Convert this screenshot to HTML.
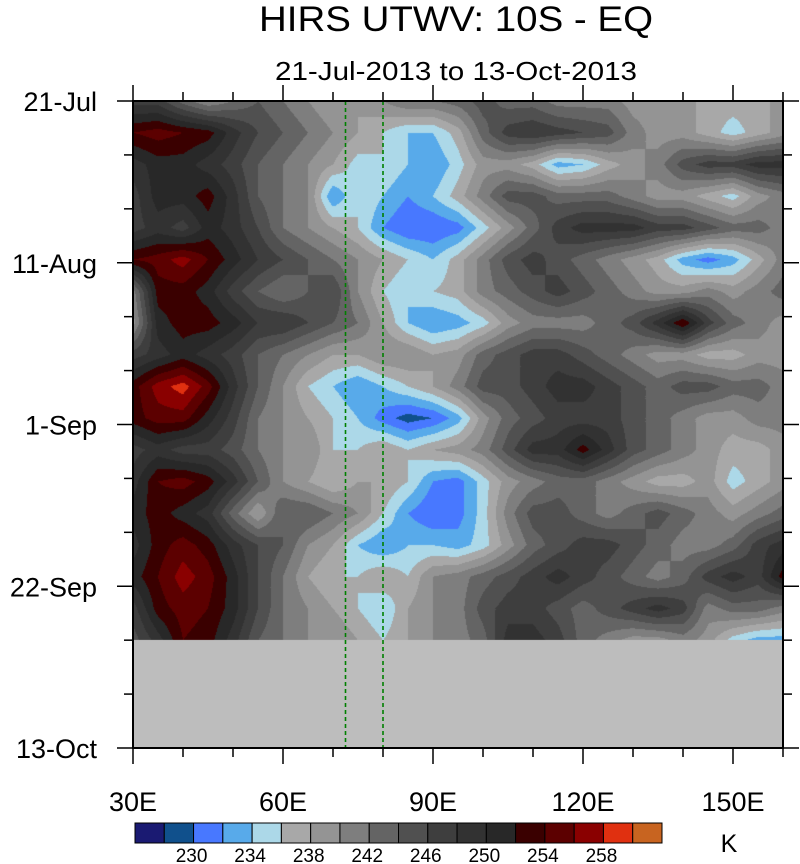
<!DOCTYPE html>
<html><head><meta charset="utf-8"><style>
html,body{margin:0;padding:0;background:#fff;width:800px;height:864px;overflow:hidden}
#wrap{position:relative;width:800px;height:864px}
canvas{position:absolute;left:133px;top:101px}
svg{position:absolute;left:0;top:0}
text{font-family:"Liberation Sans",sans-serif;fill:#000}
</style></head><body>
<div id="wrap">
<canvas id="field" width="650" height="540"></canvas>
<svg id="svg" width="800" height="864"></svg>
</div>
<script>
// ---- data ----
const lons = [30,35,40,45,50,55,60,65,70,75,80,85,90,95,100,105,110,115,120,125,130,135,140,145,150,155,160];
const days = [0,4.12,8.24,12.35,16.47,20.59,24.71,28.82,32.94,37.06,41.18,45.29,49.41,53.53,57.65,61.76,65.88,70];
const utwv = [
[245,245,241,238,240,242,240,238,236,236,238,240,240,241,243,241,241,239,239,239,237,237,237,235,235,235,237],
[252,253,252,251,247,244,242,240,238,236,234,232,232,235,241,245,246,245,244,243,239,237,237,235,233,235,237],
[247,249,249,247,245,242,240,238,236,233,234,232,230,233,237,237,235,231,232,235,237,239,243,245,245,247,247],
[245,249,249,251,247,242,240,238,230,234,232,230,232,235,239,243,243,241,241,241,239,237,237,235,233,237,239],
[245,247,245,249,247,244,240,238,236,234,230,228,228,229,233,237,241,245,247,247,247,245,245,243,241,241,239],
[252,253,255,252,249,246,244,242,240,238,236,234,232,235,239,243,245,243,241,239,237,235,231,229,231,235,239],
[239,251,251,249,245,242,240,242,244,238,234,232,234,235,239,241,243,245,243,241,239,237,237,239,237,239,241],
[237,249,251,251,249,246,246,244,242,240,236,232,230,231,233,237,239,239,239,241,243,247,252,245,241,239,237],
[245,247,249,247,245,242,240,238,236,236,238,238,236,237,241,243,245,245,243,241,239,237,237,235,235,237,237],
[251,255,257,253,247,242,238,234,232,230,232,234,236,239,243,243,245,247,247,245,243,241,243,243,241,241,239],
[251,253,253,249,245,240,238,236,234,232,229,227,228,231,237,241,243,245,245,245,243,241,239,237,237,239,239],
[245,247,245,245,243,240,238,238,234,234,236,234,236,237,239,243,247,247,251,247,243,241,239,237,235,235,237],
[247,252,253,251,247,242,238,236,234,236,236,234,230,229,233,237,239,241,241,239,237,235,235,237,233,235,237],
[249,251,249,247,241,236,242,242,240,238,234,230,228,229,233,239,243,243,241,239,241,243,241,239,237,239,241],
[247,251,253,251,247,244,242,238,236,232,230,232,232,231,233,237,241,243,245,245,243,241,239,239,241,245,247],
[249,252,255,253,249,244,240,236,234,234,236,234,238,239,241,243,245,247,245,243,241,239,241,245,247,245,251],
[245,251,253,252,249,244,240,238,236,234,232,236,238,239,243,245,245,243,241,243,245,247,245,239,241,241,239],
[243,247,252,251,247,242,240,238,238,236,234,236,238,239,241,247,247,245,241,239,237,237,239,237,233,231,231]
];
const levels = [226,228,230,232,234,236,238,240,242,244,246,248,250,252,254,256,258];
const levelLabels = ["230","234","238","242","246","250","254","258"];
const xTickLabels = ["30E","60E","90E","120E","150E"];
const xTickLons = [30,60,90,120,150];
const yTickLabels = ["21-Jul","11-Aug","1-Sep","22-Sep","13-Oct"];
const yTickDays = [0,21,42,63,84];
const markerLons = [72.5,80];
const colors = ["#1a1a72","#10508c","#4878ff","#58aaea","#acd8e8","#a8a8a8","#949494","#7e7e7e","#646464","#505050","#3e3e3e","#323232","#282828","#3a0000","#5c0000","#8a0000","#e03010","#c86420"];

// ---- axes ----
const X0=133,X1=783,Y0=101,Y1=748;
const xS = lon => X0 + (lon-30)*(X1-X0)/130;
const yS = d => Y0 + d*(Y1-Y0)/84;
function colorIdx(v){let k=0;while(k<levels.length&&v>=levels[k])k++;return k;}

// ---- field ----
const cv=document.getElementById('field'),ctx=cv.getContext('2d');
const W=cv.width,H=cv.height,img=ctx.createImageData(W,H);
const rgb=colors.map(c=>[parseInt(c.substr(1,2),16),parseInt(c.substr(3,2),16),parseInt(c.substr(5,2),16)]);
const dEnd=days[days.length-1];
for(let py=0;py<H;py++){
  const d=(py+0.5)*84/(Y1-Y0);
  let r=0;while(r<days.length-2&&d>days[r+1])r++;
  let ty=Math.min(1,(d-days[r])/(days[r+1]-days[r]));
  for(let px=0;px<W;px++){
    const o=(py*W+px)*4;
    if(d>dEnd){img.data[o]=189;img.data[o+1]=189;img.data[o+2]=189;img.data[o+3]=255;continue;}
    const lon=30+(px+0.5)*130/(X1-X0);
    let c=0;while(c<lons.length-2&&lon>lons[c+1])c++;
    let tx=(lon-lons[c])/(lons[c+1]-lons[c]);
    const v=(1-ty)*((1-tx)*utwv[r][c]+tx*utwv[r][c+1])+ty*((1-tx)*utwv[r+1][c]+tx*utwv[r+1][c+1]);
    const k=rgb[colorIdx(v)];
    img.data[o]=k[0];img.data[o+1]=k[1];img.data[o+2]=k[2];img.data[o+3]=255;
  }
}
ctx.putImageData(img,0,0);

// ---- svg decorations ----
const svg=document.getElementById('svg'),NS='http://www.w3.org/2000/svg';
function mk(tag,attrs,parent){const e=document.createElementNS(NS,tag);for(const k in attrs)e.setAttribute(k,attrs[k]);(parent||svg).appendChild(e);return e;}
function txt(s,x,y,size,anchor,len){const t=mk('text',{x:x,y:y,'text-anchor':anchor});t.style.fontSize=size+'px';if(len){t.setAttribute('textLength',len);t.setAttribute('lengthAdjust','spacingAndGlyphs');}t.textContent=s;return t;}

const nodata=mk('rect',{x:X0,y:yS(dEnd),width:X1-X0,height:Y1-yS(dEnd),fill:'#bdbdbd'});



const mg=mk('g',{});


markerLons.forEach(l=>{const ln=mk('line',{x1:xS(l),x2:xS(l),y1:Y0,y2:Y1,stroke:'#008000','stroke-width':1.6,'stroke-dasharray':'4,3'},mg);

});

const frame=mk('rect',{x:X0,y:Y0,width:X1-X0,height:Y1-Y0,fill:'none',stroke:'#000','stroke-width':2});



// x ticks
const xt=mk('g',{stroke:'#000','stroke-width':1.5});


for(let l=30;l<=160;l+=10){const major=xTickLons.includes(l);const len=major?16:9;const x=xS(l);
 mk('line',{x1:x,x2:x,y1:Y0,y2:Y0-len},xt);mk('line',{x1:x,x2:x,y1:Y1,y2:Y1+len},xt);}
const xl=mk('g',{});


xTickLabels.forEach((s,i)=>{const t=txt(s,xS(xTickLons[i]),811,27,'middle');xl.appendChild(t);

});

// y ticks
const yt=mk('g',{stroke:'#000','stroke-width':1.5});


for(let d=0;d<=84;d+=7){const major=yTickDays.includes(d);const len=major?16:9;const y=yS(d);
 mk('line',{x1:X0,x2:X0-len,y1:y,y2:y},yt);mk('line',{x1:X1,x2:X1+len,y1:y,y2:y},yt);}
const yl=mk('g',{});


yTickLabels.forEach((s,i)=>{const t=txt(s,97,yS(yTickDays[i])+10,27,'end');yl.appendChild(t);

});

// titles
const t1=txt('HIRS UTWV: 10S - EQ',456,31,35,'middle',394);


const t2=txt('21-Jul-2013 to 13-Oct-2013',456,80,26,'middle',362);



// colorbar
const cb=mk('g',{});


const CB0=135,CB1=662,bw=(CB1-CB0)/colors.length;
colors.forEach((c,i)=>{const r=mk('rect',{x:CB0+i*bw,y:823,width:bw,height:20,fill:c,stroke:'#000','stroke-width':1},cb);

});
levelLabels.forEach((s,i)=>{const t=txt(s,CB0+(2+2*i)*bw-2,862,19,'middle');cb.appendChild(t);

});
const ku=txt('K',729,852,25,'middle');


</script>
</body></html>
